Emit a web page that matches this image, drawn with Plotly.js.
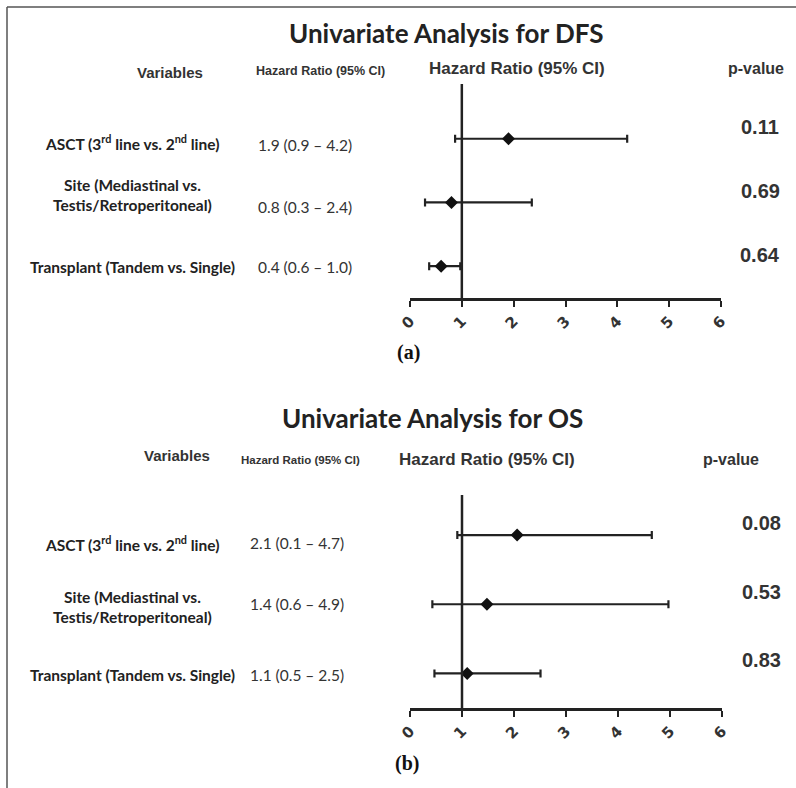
<!DOCTYPE html>
<html>
<head>
<meta charset="utf-8">
<script src="https://cdn.plot.ly/plotly-3.0.1.min.js"></script>
<style>html,body{margin:0;padding:0;background:#fff;}#chart{width:796px;height:788px;}</style>
</head>
<body>
<div id="chart"></div>
<script>
// ---- data ----
const variables = [
  'ASCT (3<sup>rd</sup> line vs. 2<sup>nd</sup> line)',
  'Site (Mediastinal vs.<br>Testis/Retroperitoneal)',
  'Transplant (Tandem vs. Single)'
];
const rowPos = [3, 2, 1];
const xTicks = [0, 1, 2, 3, 4, 5, 6];
const refValue = 1;

const dfsHR   = [1.90, 0.80, 0.60];
const dfsLow  = [0.87, 0.29, 0.37];
const dfsHigh = [4.19, 2.35, 0.97];
const dfsText = ['1.9 (0.9 – 4.2)', '0.8 (0.3 – 2.4)', '0.4 (0.6 – 1.0)'];
const dfsP    = ['0.11', '0.69', '0.64'];

const osHR   = [2.06, 1.48, 1.10];
const osLow  = [0.91, 0.43, 0.47];
const osHigh = [4.65, 4.97, 2.51];
const osText = ['2.1 (0.1 – 4.7)', '1.4 (0.6 – 4.9)', '1.1 (0.5 – 2.5)'];
const osP    = ['0.08', '0.53', '0.83'];

const titles = ['Univariate Analysis for DFS', 'Univariate Analysis for OS'];
const panelLabels = ['(a)', '(b)'];
const headers = ['Variables', 'Hazard Ratio (95% CI)', 'Hazard Ratio (95% CI)', 'p-value'];

// ---- helpers ----
const W = 796, H = 788;
const px = v => v / W;
const py = v => 1 - v / H;

function forestTrace(hr, lo, hi, xa, ya) {
  return {
    type: 'scatter', mode: 'markers', xaxis: xa, yaxis: ya,
    x: hr, y: rowPos,
    marker: {symbol: 'diamond', size: 10, color: '#111'},
    error_x: {
      type: 'data', symmetric: false,
      array: hi.map((h, i) => h - hr[i]),
      arrayminus: lo.map((l, i) => hr[i] - l),
      color: '#222', thickness: 2.2, width: 4
    },
    hoverinfo: 'skip'
  };
}

const data = [
  forestTrace(dfsHR, dfsLow, dfsHigh, 'x', 'y'),
  forestTrace(osHR, osLow, osHigh, 'x2', 'y2')
];

const sans = 'Liberation Sans, Arial, sans-serif';
const cal = 'Lato, Open Sans, sans-serif';
const ann = [];
function A(text, x, y, font, extra) {
  ann.push(Object.assign({text, x: px(x), y: py(y), xref: 'paper', yref: 'paper',
    showarrow: false, xanchor: 'center', yanchor: 'middle', font}, extra || {}));
}

// panel specs (pixel positions)
const panels = [
  {title: [446, 33], vars: [170, 72], hrs: [320, 71], hrb: [517, 69], pv: [756, 68],
   labelY: [142, 195, 267], valY: [145, 207, 267], pY: [127, 191, 255], valX: 305, pX: 760,
   lab: [408, 352], text: dfsText, p: dfsP, hsmall: 12.5},
  {title: [432, 418], vars: [177, 455], hrs: [300, 460], hrb: [487, 459], pv: [731, 459],
   labelY: [543, 607, 675], valY: [543, 604, 675], pY: [523, 592, 660], valX: 297, pX: 761,
   lab: [407, 763], text: osText, p: osP, hsmall: 11.5}
];

panels.forEach((P, k) => {
  A('<b>' + titles[k] + '</b>', P.title[0], P.title[1], {family: cal, size: 26, color: '#222'});
  A('<b>' + headers[0] + '</b>', P.vars[0], P.vars[1], {family: sans, size: 15, color: '#333'});
  A('<b>' + headers[1] + '</b>', P.hrs[0], P.hrs[1], {family: sans, size: P.hsmall, color: '#333'});
  A('<b>' + headers[2] + '</b>', P.hrb[0], P.hrb[1], {family: sans, size: 17, color: '#333'});
  A('<b>' + headers[3] + '</b>', P.pv[0], P.pv[1], {family: sans, size: 16, color: '#333'});
  variables.forEach((v, i) => {
    A('<b>' + v + '</b>', 132, P.labelY[i], {family: cal, size: 15.5, color: '#222'});
    A(P.text[i], P.valX, P.valY[i], {family: cal, size: 15.5, color: '#333'});
    A('<b>' + P.p[i] + '</b>', P.pX, P.pY[i], {family: sans, size: 20, color: '#333'});
  });
  A('<b>' + panelLabels[k] + '</b>', P.lab[0], P.lab[1], {family: 'Liberation Serif, Times New Roman, serif', size: 20, color: '#111'});
});

const axisX = {
  range: [0, 6], tickvals: xTicks, ticktext: xTicks.map(String), tickangle: -45,
  showline: true, linewidth: 2.5, linecolor: '#222', mirror: false,
  ticks: 'outside', ticklen: 6, tickwidth: 2, tickcolor: '#222',
  showgrid: false, zeroline: false, fixedrange: true,
  tickfont: {family: 'DejaVu Sans, sans-serif', size: 15, color: '#333', weight: 'bold'}
};

const layout = {
  width: W, height: H,
  margin: {l: 0, r: 0, t: 0, b: 0},
  paper_bgcolor: '#fff', plot_bgcolor: '#fff',
  showlegend: false,
  xaxis: Object.assign({}, axisX, {domain: [px(410), px(721)], anchor: 'y'}),
  yaxis: {domain: [py(298), py(84)], range: [0.5, 3.86], visible: false, fixedrange: true},
  xaxis2: Object.assign({}, axisX, {domain: [px(410), px(722)], anchor: 'y2'}),
  yaxis2: {domain: [py(708), py(495)], range: [0.5, 3.58], visible: false, fixedrange: true},
  shapes: [
    {type: 'line', xref: 'x', yref: 'y domain', x0: refValue, x1: refValue, y0: 0, y1: 1, line: {color: '#222', width: 2.5}},
    {type: 'line', xref: 'x2', yref: 'y2 domain', x0: refValue, x1: refValue, y0: 0, y1: 1, line: {color: '#222', width: 2.5}},
    {type: 'line', xref: 'paper', yref: 'paper', x0: px(7), x1: 1, y0: py(7), y1: py(7), line: {color: '#555', width: 1.5}},
    {type: 'line', xref: 'paper', yref: 'paper', x0: px(7), x1: px(7), y0: py(7), y1: 0, line: {color: '#555', width: 1.5}}
  ],
  annotations: ann
};

Plotly.newPlot('chart', data, layout, {displayModeBar: false, staticPlot: true});
</script>
</body>
</html>
